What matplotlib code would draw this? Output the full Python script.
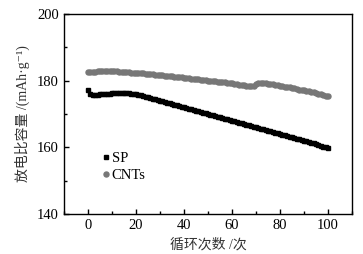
import matplotlib
matplotlib.use("Agg")
import matplotlib.pyplot as plt
from matplotlib.ticker import MultipleLocator

# cycle number 0..100
cycles = list(range(101))

sp_capacity = [
    177.2, 176.0, 175.7, 175.8, 175.8, 175.9, 176.0, 176.0, 176.1, 176.1,
    176.2, 176.2, 176.3, 176.3, 176.4, 176.4, 176.3, 176.2, 176.1, 176.0,
    175.9, 175.8, 175.6, 175.4, 175.2, 175.0, 174.8, 174.6, 174.4, 174.2,
    174.0, 173.8, 173.6, 173.4, 173.2, 173.0, 172.8, 172.6, 172.4, 172.2,
    172.0, 171.8, 171.6, 171.4, 171.2, 171.0, 170.8, 170.6, 170.4, 170.2,
    170.0, 169.8, 169.6, 169.4, 169.2, 169.0, 168.8, 168.6, 168.4, 168.2,
    168.0, 167.8, 167.6, 167.4, 167.2, 167.0, 166.8, 166.6, 166.4, 166.2,
    166.0, 165.8, 165.6, 165.4, 165.2, 165.0, 164.8, 164.6, 164.4, 164.2,
    164.0, 163.8, 163.6, 163.4, 163.2, 163.0, 162.8, 162.6, 162.4, 162.2,
    162.0, 161.8, 161.6, 161.4, 161.2, 161.0, 160.7, 160.5, 160.2, 160.0,
    159.8,
]

cnt_capacity = [
    182.5, 182.6, 182.7, 182.7, 182.8, 182.8, 182.9, 182.9, 182.9, 182.9,
    182.9, 182.8, 182.8, 182.7, 182.7, 182.6, 182.6, 182.5, 182.4, 182.4,
    182.3, 182.3, 182.2, 182.2, 182.1, 182.0, 182.0, 181.9, 181.8, 181.7,
    181.7, 181.6, 181.5, 181.5, 181.4, 181.3, 181.2, 181.1, 181.0, 181.0,
    180.9, 180.8, 180.7, 180.6, 180.6, 180.5, 180.4, 180.2, 180.2, 180.1,
    180.0, 179.9, 179.9, 179.8, 179.7, 179.6, 179.6, 179.5, 179.4, 179.3,
    179.2, 179.1, 179.0, 178.8, 178.7, 178.6, 178.5, 178.5, 178.4, 178.5,
    179.1, 179.4, 179.4, 179.3, 179.2, 179.1, 179.0, 178.9, 178.8, 178.6,
    178.5, 178.3, 178.2, 178.1, 178.1, 177.8, 177.7, 177.6, 177.3, 177.2,
    177.2, 177.0, 176.8, 176.5, 176.5, 176.3, 176.0, 175.9, 175.7, 175.5,
    175.3,
]

series_names = ["SP", "CNTs"]

plt.rcParams['font.family'] = ['Liberation Serif', 'Noto Sans CJK SC', 'DejaVu Serif']
plt.rcParams['axes.unicode_minus'] = False

fig = plt.figure(figsize=(3.63, 2.54), dpi=100)
ax = fig.add_axes([0.176, 0.157, 0.794, 0.788])

ax.plot(cycles, sp_capacity, linestyle='none', marker='s', markersize=3.2,
        color='black', label=series_names[0])
ax.plot(cycles, cnt_capacity, linestyle='none', marker='o', markersize=3.6,
        color='#777777', label=series_names[1])

ax.set_xlim(-10, 110)
ax.set_ylim(140, 200)
ax.xaxis.set_major_locator(MultipleLocator(20))
ax.xaxis.set_minor_locator(MultipleLocator(10))
ax.yaxis.set_major_locator(MultipleLocator(20))
ax.yaxis.set_minor_locator(MultipleLocator(10))
ax.tick_params(which='both', direction='in', labelsize=10.5, width=1)
ax.tick_params(which='major', length=3.5)
ax.tick_params(which='minor', length=2)
for s in ax.spines.values():
    s.set_linewidth(1)

ax.set_xlabel("循环次数 /次", fontsize=10, labelpad=4, color='#333333')
ax.set_ylabel("放电比容量 /(mAh·g⁻¹)", fontsize=10, labelpad=5, color='#333333')

ax.legend(loc='lower left', bbox_to_anchor=(0.1, 0.11), frameon=False,
          fontsize=10.5, handlelength=0.4, handletextpad=0.2, labelspacing=0.25,
          borderpad=0.2)

fig.savefig("out.png", dpi=100)
